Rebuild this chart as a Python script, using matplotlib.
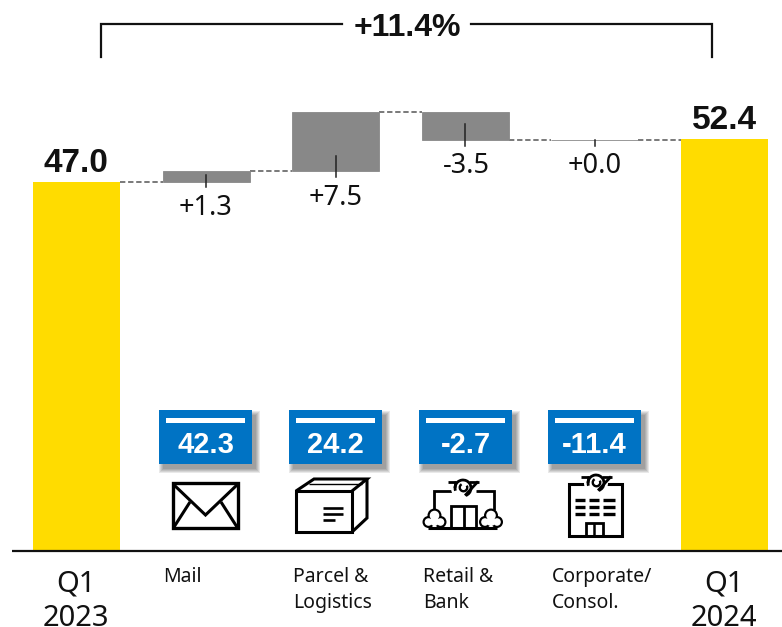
import numpy as np
import matplotlib
matplotlib.use("Agg")
import matplotlib.pyplot as plt
from matplotlib.patches import Rectangle, Arc, Circle

FONT = "Noto Sans"
BOLD = "Liberation Sans"
plt.rcParams["font.family"] = [FONT, "DejaVu Sans"]

# --- data ---
start_label = ["Q1", "2023"]
end_label = ["Q1", "2024"]
start_value = 47.0
end_value = 52.4
segments = ["Mail", "Parcel &\nLogistics", "Retail &\nBank", "Corporate/\nConsol."]
deltas = [1.3, 7.5, -3.5, 0.0]
delta_labels = ["+1.3", "+7.5", "-3.5", "+0.0"]
ebit_values = ["42.3", "24.2", "-2.7", "-11.4"]
total_change = "+11.4%"

YELLOW = "#FFDC00"
GREY = "#888888"
BLUE = "#0073C4"

W, H = 782, 627
fig = plt.figure(figsize=(W / 100, H / 100), dpi=100, facecolor="white")

ax = fig.add_axes([0, 0, 1, 1])
ax.set_xlim(-76.5 / 129.6, (W - 76.5) / 129.6)
ax.set_ylim(-(H - 551) / 7.86, 551 / 7.86)
ax.axis("off")

BW = 0.67
DASH = (0, (3.5, 1.8))
ax.bar([0, 5], [start_value, end_value], width=BW, color=YELLOW, linewidth=0, zorder=2)
levels = [start_value] + list(start_value + np.cumsum(deltas))
for i, d in enumerate(deltas):
    ax.bar(i + 1, abs(d), bottom=min(levels[i], levels[i + 1]), width=BW, color=GREY,
           edgecolor=GREY, linewidth=0.6, zorder=2)
    ax.plot([i + BW / 2, i + 1 - BW / 2], [levels[i]] * 2, color="#555555", lw=1.1, ls=DASH, zorder=1)
    low = min(levels[i], levels[i + 1])
    reach = min(abs(d) * 0.66, 2.0) if abs(d) > 0 else 0.05
    ax.plot([i + 1, i + 1], [low + reach, low - 0.75], color="#222222", lw=1.1, zorder=3)
ax.plot([4 + BW / 2, 5 - BW / 2], [levels[4]] * 2, color="#555555", lw=1.1, ls=DASH, zorder=1)

ov = fig.add_axes([0, 0, 1, 1], facecolor="none")
ov.set_xlim(0, W)
ov.set_ylim(H, 0)
ov.axis("off")

ov.plot([12, 782], [551, 551], color="#111111", lw=1.6, solid_capstyle="butt", zorder=5)

# bracket
ov.plot([101, 101, 342], [57, 24, 24], color="#111111", lw=1.6, solid_joinstyle="miter")
ov.plot([471, 712, 712], [24, 24, 57], color="#111111", lw=1.6, solid_joinstyle="miter")
ov.text(407, 36.5, total_change, ha="center", va="baseline", fontsize=23, fontweight="bold",
        family=BOLD, color="#111111")

# totals
ov.text(76, 172, f"{start_value:.1f}", ha="center", va="baseline", fontsize=24, fontweight="bold",
        family=BOLD, color="#111111")
ov.text(724, 129, f"{end_value:.1f}", ha="center", va="baseline", fontsize=24, fontweight="bold",
        family=BOLD, color="#111111")

# delta labels
for x, y, s in zip([206, 336, 466, 595], [215, 205, 173, 173], delta_labels):
    ov.text(x, y, s, ha="center", va="baseline", fontsize=19.5, color="#111111")

# axis labels
for x, lab in zip([76, 724], [start_label, end_label]):
    ov.text(x, 592, lab[0], ha="center", va="baseline", fontsize=21, color="#111111")
    ov.text(x, 626, lab[1], ha="center", va="baseline", fontsize=21, color="#111111")
for x, s in zip([163, 293, 423, 552], segments):
    for j, part in enumerate(s.split("\n")):
        ov.text(x, 582 + j * 26, part, ha="left", va="baseline", fontsize=14, color="#111111")

# blue boxes
for x0, s in zip([159, 289, 419, 548], ebit_values):
    for k in range(4, -1, -1):
        ov.add_patch(Rectangle((x0 + 4 - k, 415 - k), 93 + 2 * k, 54 + 2 * k,
                               facecolor="black", alpha=0.085, linewidth=0, zorder=3))
    ov.add_patch(Rectangle((x0, 410), 93, 54, facecolor=BLUE, linewidth=0, zorder=4))
    ov.add_patch(Rectangle((x0 + 7, 418), 79, 5, facecolor="white", linewidth=0, zorder=5))
    ov.text(x0 + 46.5, 453, s, ha="center", va="baseline", fontsize=21, fontweight="bold",
            family=BOLD, color="white", zorder=6)

LW = 2.2
def line(xs, ys, lw=LW, z=5):
    ov.plot(xs, ys, color="black", lw=lw, solid_capstyle="butt", solid_joinstyle="miter", zorder=z)

def logo(cx, cy):
    ov.add_patch(Circle((cx, cy), 12, facecolor="white", edgecolor="none", zorder=5.5))
    ov.add_patch(Arc((cx, cy), 16, 16, theta1=-200, theta2=70, color="black", lw=2.0, zorder=6))
    ov.add_patch(Arc((cx + 0.5, cy - 0.5), 7.5, 7.5, theta1=-30, theta2=240, color="black", lw=1.7, zorder=6))
    line([cx - 15, cx - 7], [cy - 6.5, cy - 6.5], 2.0, 6)
    line([cx - 7, cx - 8], [cy - 6.5, cy], 2.0, 6)
    line([cx + 2, cx + 15], [cy + 7.5, cy - 6.5], 2.0, 6)
    line([cx + 6, cx + 16], [cy - 6.5, cy - 6.5], 2.0, 6)

def tree(cx, base):
    for dx, dy, r in [(-6, -6.5, 6), (6, -6.5, 6), (0, -13, 7)]:
        ov.add_patch(Circle((cx + dx, base + dy), r, facecolor="black", edgecolor="none", zorder=5))
    for dx, dy, r in [(-6, -6.5, 3.8), (6, -6.5, 3.8), (0, -13, 4.8), (0, -7, 4.5)]:
        ov.add_patch(Circle((cx + dx, base + dy), r, facecolor="white", edgecolor="none", zorder=5.2))

# mail
ov.add_patch(Rectangle((173, 483), 65, 45, fill=False, edgecolor="black", lw=2.4, zorder=5))
line([173, 205.5, 238], [484, 515, 484])
line([174, 190], [527, 502])
line([237, 221], [527, 502])

# parcel
ov.add_patch(Rectangle((296, 491), 56, 41, fill=False, edgecolor="black", lw=LW, zorder=5))
line([296, 314, 367, 352], [491, 479, 479, 491])
line([367, 367, 352], [479, 518, 532])
line([309, 362], [484, 484], 1.0)
line([323, 343], [507.5, 507.5], 1.9)
line([323, 343], [513.5, 513.5], 1.9)
line([323, 335], [519.5, 519.5], 1.9)

# retail
line([433.5, 433.5, 452], [510, 490.5, 490.5], 2.0)
line([476, 493.5, 493.5], [490.5, 490.5, 510], 2.0)
ov.add_patch(Rectangle((451, 506), 25, 22, fill=False, edgecolor="black", lw=2.0, zorder=5))
line([463.5, 463.5], [506, 528], 2.0)
tree(434.5, 528.5)
tree(491, 528.5)
line([428, 497], [528, 528], 2.2, 5.3)
logo(463, 488)

# office
ov.add_patch(Rectangle((568.5, 484), 53, 51.5, facecolor="white", edgecolor="black", lw=2.2, zorder=5))
for y in (500, 507, 514):
    for a, b in ((575, 585), (589, 599), (603, 615)):
        line([a, b], [y, y], 2.4, 5.2)
ov.add_patch(Rectangle((585.5, 523), 17, 12.5, fill=False, edgecolor="black", lw=2.0, zorder=5.2))
line([594, 594], [523, 535], 1.8, 5.2)
logo(596, 483)

fig.savefig("out.png", dpi=100, facecolor="white")
